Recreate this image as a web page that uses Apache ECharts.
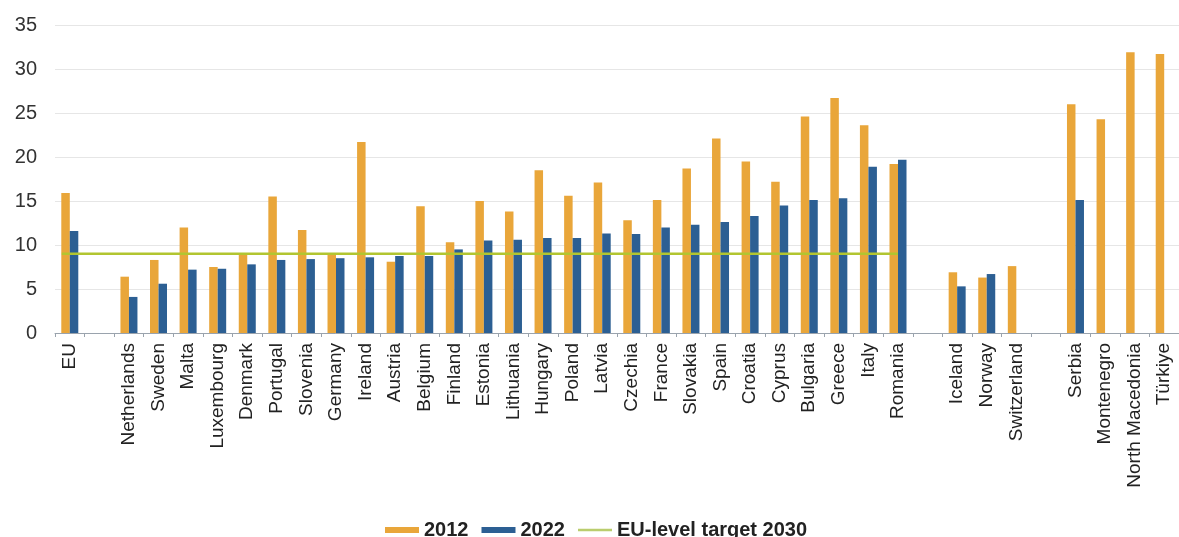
<!DOCTYPE html>
<html>
<head>
<meta charset="utf-8">
<script src="https://cdn.jsdelivr.net/npm/echarts@6/dist/echarts.min.js"></script>
<style>
html,body{margin:0;padding:0;background:#fff;}
#c{width:1179px;height:537px;}
</style>
</head>
<body>
<div id="c"></div>
<script>
const categories = ['EU','','Netherlands','Sweden','Malta','Luxembourg','Denmark','Portugal','Slovenia','Germany','Ireland','Austria','Belgium','Finland','Estonia','Lithuania','Hungary','Poland','Latvia','Czechia','France','Slovakia','Spain','Croatia','Cyprus','Bulgaria','Greece','Italy','Romania',' ','Iceland','Norway','Switzerland','  ','Serbia','Montenegro','North Macedonia','Türkiye'];
const values2012 = [15.9,null,6.4,8.3,12.0,7.5,9.0,15.5,11.7,9.0,21.7,8.1,14.4,10.3,15.0,13.8,18.5,15.6,17.1,12.8,15.1,18.7,22.1,19.5,17.2,24.6,26.7,23.6,19.2,null,6.9,6.3,7.6,null,26.0,24.3,31.9,31.7];
const values2022 = [11.6,null,4.1,5.6,7.2,7.3,7.8,8.3,8.4,8.5,8.6,8.75,8.75,9.5,10.5,10.6,10.8,10.8,11.3,11.25,12.0,12.3,12.6,13.3,14.5,15.1,15.3,18.9,19.7,null,5.3,6.7,null,null,15.1,null,null,null];
const targetValue = 9;
const targetSpan = [-0.27, 28.0]; // from EU to Romania (category positions)
const targetLine = targetSpan.map(x => [x, targetValue]);
const yTicks = [0,5,10,15,20,25,30,35];

const chart = echarts.init(document.getElementById('c'));
chart.setOption({
  animation:false,
  textStyle:{fontFamily:'Liberation Sans, Arial, sans-serif'},
  grid:{left:55, top:25, bottom:204, right:-6},
  legend:{
    left:380, top:515, itemWidth:34, itemHeight:6, itemGap:13,
    textStyle:{fontSize:20, fontWeight:'bold', color:'#222'},
    data:[
      {name:'2012',icon:'rect'},
      {name:'2022',icon:'rect'},
      {name:'EU-level target 2030',icon:'path://M0,0 L40,0 L40,3 L0,3 Z', itemStyle:{color:'#BACD6E'}}
    ]
  },
  xAxis:[{
    type:'category', data:categories,
    axisLine:{lineStyle:{color:'#9aa3ad'}},
    axisTick:{show:true, length:4, lineStyle:{color:'#9aa3ad'}},
    axisLabel:{rotate:90, interval:0, fontSize:19, color:'#222', margin:10}
  },{
    type:'value', min:-0.5, max:categories.length-0.5, show:false
  }],
  yAxis:{
    type:'value', min:0, max:35, interval:5,
    axisLine:{show:false}, axisTick:{show:false},
    axisLabel:{fontSize:20, color:'#333', margin:18},
    splitLine:{lineStyle:{color:'#e6e6e6'}}
  },
  series:[
    {name:'2012', type:'bar', data:values2012, barWidth:8.5, barGap:'0%', itemStyle:{color:'#E9A63A'}},
    {name:'2022', type:'bar', data:values2022, barWidth:8.5, itemStyle:{color:'#2C5F93'}},
    {name:'EU-level target 2030', type:'line', xAxisIndex:1, data:targetLine, symbol:'none', showSymbol:false, z:5,
     lineStyle:{color:'#B2C530', width:2.5}, itemStyle:{color:'#B2C530'}}
  ]
});
</script>
</body>
</html>
